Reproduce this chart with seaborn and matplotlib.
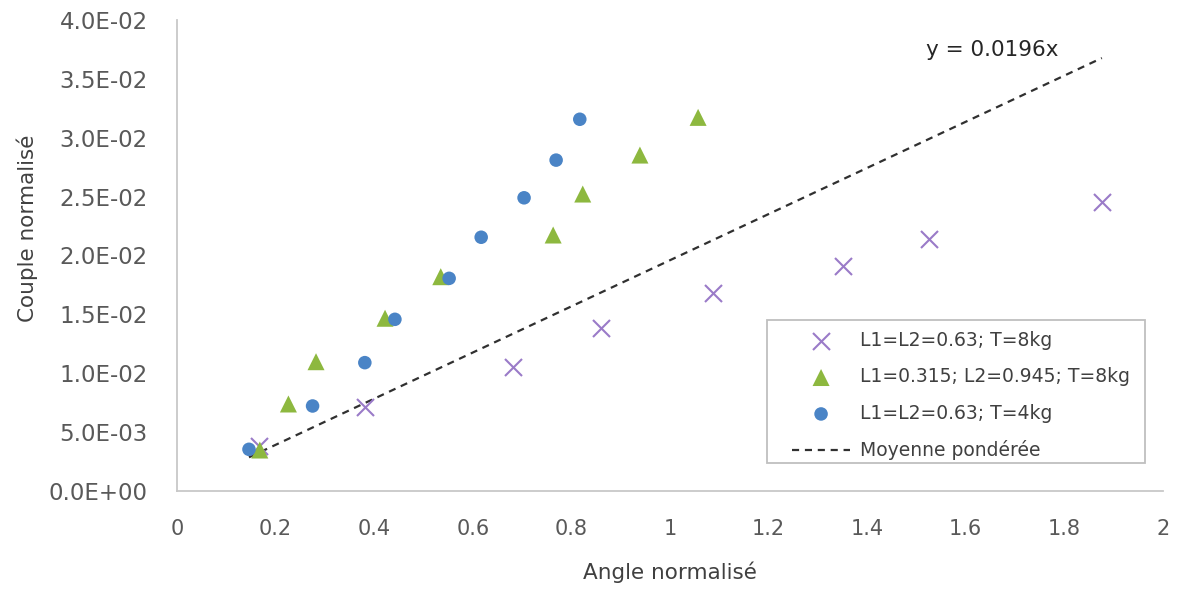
import matplotlib
matplotlib.use("Agg")
import matplotlib.pyplot as plt
from matplotlib.ticker import FuncFormatter, MultipleLocator
from matplotlib.patches import Rectangle
import seaborn as sns
import numpy as np

# ---- data ----
x_cross = [0.166, 0.381, 0.682, 0.861, 1.088, 1.350, 1.525, 1.876]
y_cross = [0.0038, 0.00716, 0.01056, 0.01387, 0.01679, 0.01913, 0.02137, 0.02457]

x_tri = [0.168, 0.226, 0.282, 0.422, 0.535, 0.763, 0.823, 0.939, 1.057]
y_tri = [0.00348, 0.00739, 0.01098, 0.01467, 0.0182, 0.02174, 0.02522, 0.02853, 0.03173]

x_dot = [0.146, 0.275, 0.381, 0.442, 0.552, 0.617, 0.704, 0.769, 0.817]
y_dot = [0.00354, 0.00722, 0.0109, 0.01458, 0.01806, 0.02155, 0.0249, 0.0281, 0.03157]

labels = ["L1=L2=0.63; T=8kg", "L1=0.315; L2=0.945; T=8kg", "L1=L2=0.63; T=4kg", "Moyenne pondérée"]
slope = 0.0196

sns.set_theme(style="white")
plt.rcParams['font.family'] = ['DejaVu Sans']

W, H = 1185, 589
fig = plt.figure(figsize=(W/100, H/100), dpi=100)
ax = fig.add_axes([177/W, 1-491/H, (1163-177)/W, (491-20)/H])

def axfx(px):
    return (px - 177) / 986

def axfy(py):
    return (491 - py) / 471

c_cross = '#9A7BC8'
c_tri = '#8DB83F'
c_dot = '#4A84C6'

sns.scatterplot(x=x_cross, y=y_cross, ax=ax, marker='x', s=150, color=c_cross,
                linewidth=1.5, label=labels[0], zorder=3)
sns.scatterplot(x=x_tri, y=y_tri, ax=ax, marker='^', s=150, color=c_tri,
                edgecolor='none', label=labels[1], zorder=4)
sns.scatterplot(x=x_dot, y=y_dot, ax=ax, marker='o', s=95, color=c_dot,
                edgecolor='none', label=labels[2], zorder=5)

all_x = x_cross + x_tri + x_dot
xl = np.array([min(all_x), max(all_x)])
sns.lineplot(x=xl, y=slope * xl, ax=ax, color='#303030', linewidth=1.6,
             dashes=False, label=labels[3], zorder=2)
ax.lines[-1].set_dashes((3.2, 2.6))

ax.set_xlim(0, 2)
ax.set_ylim(0, 0.04)
ax.xaxis.set_major_locator(MultipleLocator(0.2))
ax.yaxis.set_major_locator(MultipleLocator(0.005))
ax.xaxis.set_major_formatter(FuncFormatter(lambda v, p: f"{v:g}"))
ax.yaxis.set_major_formatter(FuncFormatter(lambda v, p: f"{v:.1E}"))
ax.tick_params(axis='both', length=0, labelcolor='#595959')
ax.tick_params(axis='y', pad=21, labelsize=16.5)
ax.tick_params(axis='x', pad=20, labelsize=15)

for s in ['top', 'right']:
    ax.spines[s].set_visible(False)
for s in ['left', 'bottom']:
    ax.spines[s].set_color('#C8C8C8')
    ax.spines[s].set_linewidth(1.3)
ax.grid(False)

ax.set_xlabel("Angle normalisé", fontsize=15.5, color='#404040', va='center')
ax.set_ylabel("Couple normalisé", fontsize=15.5, color='#404040', va='center')
ax.xaxis.set_label_coords(0.5, axfy(572))
ax.yaxis.set_label_coords(axfx(27), axfy(228))

ax.text((992-177)/493, (491-50)/11775, f"y = {slope}x", fontsize=15.5,
        color='#262626', ha='center', va='center')

# legend frame drawn as a separate box, entries placed inside it
ax.add_patch(Rectangle((axfx(767), axfy(463)), axfx(1145) - axfx(767), axfy(320) - axfy(463),
                       transform=ax.transAxes, facecolor='white', edgecolor='#BFBFBF',
                       linewidth=1.3, zorder=6, clip_on=False))
leg = ax.legend(loc='upper left', bbox_to_anchor=(axfx(792), axfy(331)),
                frameon=False, fontsize=13.5,
                handlelength=3.1, handletextpad=0.5, labelspacing=0.93,
                borderpad=0, borderaxespad=0)
leg.set_zorder(7)
for t in leg.get_texts():
    t.set_color('#404040')

fig.savefig("out.png", dpi=100, facecolor='white')
